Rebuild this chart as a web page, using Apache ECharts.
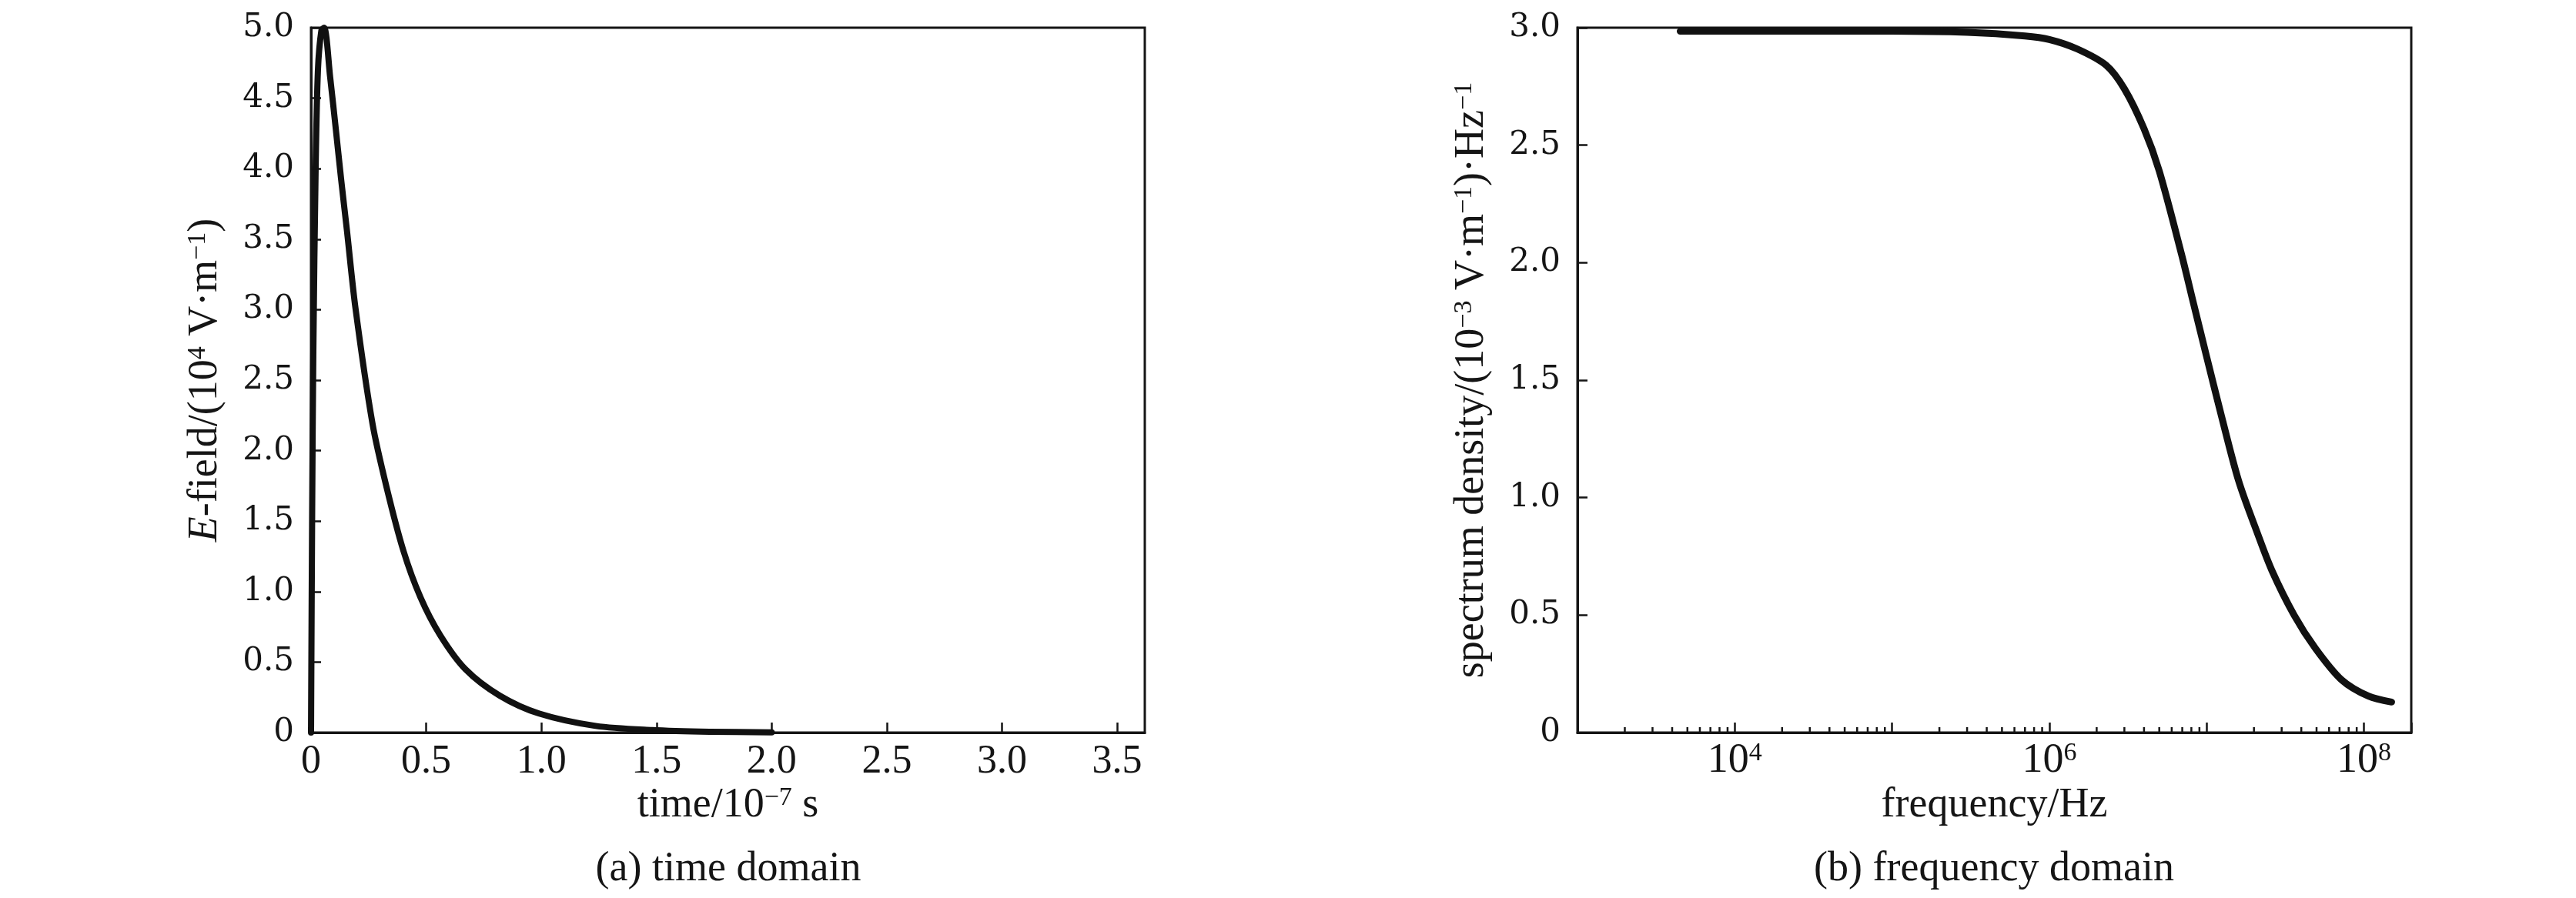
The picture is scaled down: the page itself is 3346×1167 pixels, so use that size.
<!DOCTYPE html>
<html><head><meta charset="utf-8">
<script src="https://cdn.jsdelivr.net/npm/echarts@6/dist/echarts.min.js"></script>
<style>html,body{margin:0;padding:0;background:#fff}#c{width:3346px;height:1167px}</style>
</head><body><div id="c"></div>
<script>
// (a) time domain: time in 1e-7 s, E-field in 1e4 V/m
const timeValues   = [0, 0.005, 0.01, 0.02, 0.03, 0.045, 0.057, 0.083, 0.107, 0.131, 0.156, 0.193, 0.267, 0.328, 0.401, 0.475, 0.561, 0.671, 0.819, 0.99, 1.236, 1.48, 1.73, 2.0];
const efieldValues = [0, 1.6, 2.7, 4.0, 4.7, 4.98, 5.0, 4.65, 4.29, 3.92, 3.56, 3.01, 2.19, 1.74, 1.29, 0.96, 0.69, 0.448, 0.262, 0.135, 0.047, 0.018, 0.006, 0.002];
// (b) frequency domain: frequency in Hz, spectrum density in 1e-3 V/m/Hz
const freqValues     = [4500, 1e4, 3e4, 1e5, 3e5, 7e5, 1e6, 1.5e6, 2.3e6, 3e6, 4e6, 5e6, 6.9e6, 8.3e6, 1e7, 1.24e7, 1.6e7, 2.1e7, 2.6e7, 3.6e7, 4.9e7, 7.2e7, 1.07e8, 1.5e8];
const spectrumValues = [2.985, 2.985, 2.985, 2.985, 2.98, 2.965, 2.95, 2.91, 2.84, 2.74, 2.57, 2.39, 2.04, 1.82, 1.6, 1.35, 1.07, 0.85, 0.69, 0.5, 0.36, 0.225, 0.155, 0.13];
// axis ticks
const timeTickLabels = ['0', '0.5', '1.0', '1.5', '2.0', '2.5', '3.0', '3.5'];
const freqLabelExps = [4, 6, 8];
const freqMinorTicks = [2e3,3e3,4e3,5e3,6e3,7e3,8e3,9e3, 2e4,3e4,4e4,5e4,6e4,7e4,8e4,9e4, 2e5,3e5,4e5,5e5,6e5,7e5,8e5,9e5, 2e6,3e6,4e6,5e6,6e6,7e6,8e6,9e6, 2e7,3e7,4e7,5e7,6e7,7e7,8e7,9e7];

const SERIF = '"Liberation Serif", "Times New Roman", serif';
const INK = '#151515';
const supRich = {
  i: {fontFamily: SERIF, fontSize: 54, fontStyle: 'italic', color: INK},
  s: {fontFamily: SERIF, fontSize: 34, color: INK, verticalAlign: 'top'},
  b: {fontFamily: SERIF, fontSize: 54, color: INK}
};
const yFmt = v => (v === 0 ? '0' : v.toFixed(1));
const axisLine = {show: true, lineStyle: {color: INK, width: 3}};
const yLabel = {fontFamily: '"DejaVu Serif", serif', fontSize: 42, color: INK, margin: 22, formatter: yFmt};

const chart = echarts.init(document.getElementById('c'), null, {renderer: 'canvas'});
chart.setOption({
  animation: false,
  backgroundColor: '#fff',
  grid: [
    {left: 404, top: 36, width: 1083, height: 916, show: true, borderColor: INK, borderWidth: 3, backgroundColor: 'transparent'},
    {left: 2049, top: 36, width: 1083, height: 916, show: true, borderColor: INK, borderWidth: 3, backgroundColor: 'transparent'}
  ],
  xAxis: [
    {
      type: 'value', gridIndex: 0, min: 0, max: 3.62, interval: 0.5,
      axisLine, splitLine: {show: false},
      axisTick: {show: true, inside: true, length: 13, lineStyle: {color: INK, width: 2.5}},
      axisLabel: {fontFamily: SERIF, fontSize: 52, color: INK, margin: 12, showMaxLabel: false,
        formatter: v => { const k = Math.round(v * 2); return (Math.abs(v * 2 - k) < 1e-9 && k < timeTickLabels.length) ? timeTickLabels[k] : ''; }},
      name: 'time/10{s|−7} s', nameLocation: 'middle', nameGap: 68, nameMoveOverlap: false,
      nameTextStyle: {fontFamily: SERIF, fontSize: 54, color: INK, rich: supRich}
    },
    {
      type: 'log', logBase: 10, gridIndex: 1, min: 1000, max: 2e8,
      axisLine, splitLine: {show: false}, minorTick: {show: false},
      axisTick: {show: true, inside: true, length: 13, lineStyle: {color: INK, width: 2.5}},
      axisLabel: {margin: 10, rich: supRich,
        formatter: v => { const e = Math.log10(v); const r = Math.round(e); return (Math.abs(e - r) < 1e-6 && freqLabelExps.includes(r)) ? '{b|10}{s|' + r + '}' : ''; }},
      name: 'frequency/Hz', nameLocation: 'middle', nameGap: 68, nameMoveOverlap: false,
      nameTextStyle: {fontFamily: SERIF, fontSize: 54, color: INK}
    }
  ],
  yAxis: [
    {
      type: 'value', gridIndex: 0, min: 0, max: 5, interval: 0.5,
      axisLine, splitLine: {show: false},
      axisTick: {show: true, inside: true, length: 13, lineStyle: {color: INK, width: 2.5}},
      axisLabel: yLabel,
      name: '{i|E}-field/(10{s|4} V·m{s|−1})', nameLocation: 'middle', nameGap: 110, nameMoveOverlap: false,
      nameTextStyle: {fontFamily: SERIF, fontSize: 54, color: INK, rich: supRich}
    },
    {
      type: 'value', gridIndex: 1, min: 0, max: 3, interval: 0.5,
      axisLine, splitLine: {show: false},
      axisTick: {show: true, inside: true, length: 13, lineStyle: {color: INK, width: 2.5}},
      axisLabel: yLabel,
      name: 'spectrum density/(10{s|−3} V·m{s|−1})·Hz{s|−1}', nameLocation: 'middle', nameGap: 110, nameMoveOverlap: false,
      nameTextStyle: {fontFamily: SERIF, fontSize: 54, color: INK, rich: supRich}
    }
  ],
  series: [
    {
      type: 'line', xAxisIndex: 0, yAxisIndex: 0, showSymbol: false, smooth: 0.3,
      data: timeValues.map((t, i) => [t, efieldValues[i]]),
      lineStyle: {color: '#111', width: 8, cap: 'round', join: 'round'}
    },
    {
      type: 'line', xAxisIndex: 1, yAxisIndex: 1, showSymbol: false, smooth: 0.3,
      data: freqValues.map((f, i) => [f, spectrumValues[i]]),
      lineStyle: {color: '#111', width: 9, cap: 'round', join: 'round'}
    },
    {
      type: 'custom', xAxisIndex: 1, yAxisIndex: 1, silent: true, clip: false,
      data: freqMinorTicks.map(f => [f, 0]),
      renderItem: (params, api) => {
        const p = api.coord([api.value(0), 0]);
        return {type: 'line', shape: {x1: p[0], y1: p[1], x2: p[0], y2: p[1] - 7}, style: {stroke: INK, lineWidth: 2.5}};
      }
    }
  ],
  graphic: [
    {type: 'text', x: 946, y: 1130, style: {text: '(a) time domain', fontFamily: SERIF, fontSize: 54, fill: INK, align: 'center', verticalAlign: 'middle'}},
    {type: 'text', x: 2590, y: 1130, style: {text: '(b) frequency domain', fontFamily: SERIF, fontSize: 54, fill: INK, align: 'center', verticalAlign: 'middle'}}
  ]
});
</script>
</body></html>
